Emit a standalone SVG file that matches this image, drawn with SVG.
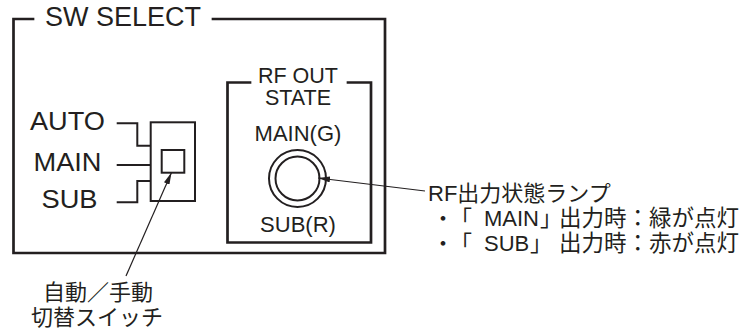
<svg xmlns="http://www.w3.org/2000/svg" width="741" height="333" viewBox="0 0 741 333">
  <style>
    .frame { fill: none; stroke: #231f20; stroke-width: 2.7; stroke-linecap: square; }
    .wire { fill: none; stroke: #231f20; stroke-width: 2; }
    .lead { fill: none; stroke: #231f20; stroke-width: 1.2; }
    .t { font-family: "Liberation Sans", "Noto Sans CJK JP", sans-serif; fill: #231f20; }
    .j { font-family: "Noto Sans CJK JP", sans-serif; }
  </style>
  <defs>
    <marker id="arr" viewBox="0 0 12 6" refX="12" refY="3" markerWidth="12" markerHeight="6" markerUnits="userSpaceOnUse" orient="auto">
      <path d="M0,0 L12,3 L0,6 Z" fill="#231f20"/>
    </marker>
  </defs>

  <g id="sw-select-panel">
    <path class="frame" d="M33,19 H13.5 V253 H385 V19 H213"/>
    <text class="t" x="45" y="26" font-size="27">SW SELECT</text>
  </g>

  <g id="rf-out-state">
    <path class="frame" d="M250,82.5 H227.5 V242.5 H371 V82.5 H348"/>
    <text class="t" x="298" y="83" font-size="21.5" text-anchor="middle">RF OUT</text>
    <text class="t" x="298" y="104.5" font-size="21.5" text-anchor="middle">STATE</text>
    <text class="t" x="298" y="141" font-size="22" text-anchor="middle">MAIN(G)</text>
    <text class="t" x="298" y="232" font-size="22" text-anchor="middle">SUB(R)</text>
  </g>

  <g id="lamp">
    <circle cx="297.5" cy="178.5" r="28.5" fill="none" stroke="#231f20" stroke-width="2"/>
    <circle cx="297.5" cy="178.5" r="22" fill="none" stroke="#231f20" stroke-width="2"/>
  </g>

  <g id="switch">
    <rect x="150.7" y="122.3" width="44.3" height="78.7" fill="none" stroke="#231f20" stroke-width="2"/>
    <rect x="161.7" y="150" width="22.6" height="22.7" fill="none" stroke="#231f20" stroke-width="2"/>
  </g>

  <g id="auto">
    <text class="t" x="30" y="130" font-size="25" textLength="75" lengthAdjust="spacingAndGlyphs">AUTO</text>
  </g>
  <g id="main">
    <text class="t" x="33.5" y="171" font-size="25" textLength="68" lengthAdjust="spacingAndGlyphs">MAIN</text>
  </g>
  <g id="sub">
    <text class="t" x="41.5" y="208" font-size="25" textLength="56" lengthAdjust="spacingAndGlyphs">SUB</text>
  </g>

  <g id="switch-label">
    <text class="t j" x="98" y="300" font-size="22" text-anchor="middle">自動／手動</text>
    <text class="t j" x="97" y="325" font-size="22" text-anchor="middle">切替スイッチ</text>
  </g>

  <g id="lamp-label">
    <text class="t" x="428" y="201" font-size="22">RF<tspan class="j">出力状態ランプ</tspan></text>
    <text class="t" y="226" font-size="22"><tspan class="j" x="432">・</tspan><tspan class="j" x="450">「</tspan><tspan x="484">MAIN</tspan><tspan class="j" x="540">」</tspan><tspan class="j" x="559" font-size="22.5">出力時：緑が点灯</tspan></text>
    <text class="t" y="251" font-size="22"><tspan class="j" x="432">・</tspan><tspan class="j" x="450">「</tspan><tspan x="484">SUB</tspan><tspan class="j" x="530">」</tspan><tspan class="j" x="559" font-size="22.5">出力時：赤が点灯</tspan></text>
  </g>

  <g id="connectors">
    <path class="wire" d="M116.7,123.3 H137.3 V145.7 H150.7"/>
    <path class="wire" d="M116.7,165 H150.7"/>
    <path class="wire" d="M116.7,202.3 H137.3 V181 H150.7"/>
    <line class="lead" x1="126" y1="276" x2="171.5" y2="172.5" marker-end="url(#arr)"/>
    <line class="lead" x1="425" y1="191" x2="318" y2="178" marker-end="url(#arr)"/>
  </g>
</svg>
